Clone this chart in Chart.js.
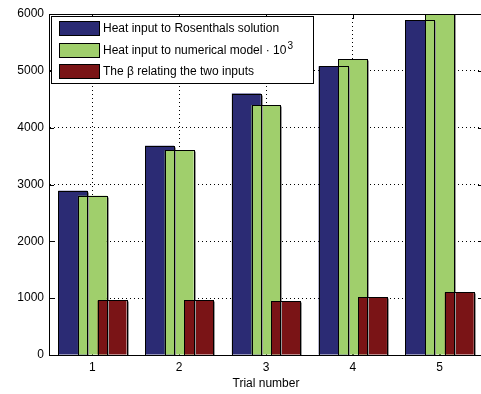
<!DOCTYPE html>
<html lang="en">
<head>
  <meta charset="UTF-8" />
  <title>Heat input per trial</title>
  <script src="https://cdn.jsdelivr.net/npm/chart.js"></script>
  <style>
    body {
      margin: 0;
      background: white;
      overflow: hidden;
    }
    #heatChart {
      display: block;
    }
  </style>
</head>
<body>
  <canvas id="heatChart" width="484" height="394"></canvas>

  <script>
    const trials = ['1', '2', '3', '4', '5'];
    const rosenthalHeat = [2890, 3680, 4600, 5080, 5890];
    const numericalHeat = [2800, 3600, 4400, 5200, 6100];
    const betaValues = [960, 960, 945, 1015, 1100];
    const yTicks = [0, 1000, 2000, 3000, 4000, 5000, 6000];

    const seriesNames = [
      'Heat input to Rosenthals solution',
      'Heat input to numerical model \u00b7 10',
      'The \u03b2 relating the two inputs'
    ];
    const colors = ['#2b2b74', '#a0cf6c', '#7a1416'];

    Chart.defaults.font.family = "'Liberation Sans', Arial, sans-serif";
    Chart.defaults.font.size = 12;
    Chart.defaults.color = '#000';

    // bars are filled in series order and outlined afterwards, so every outline stays visible
    const overlapBars = {
      id: 'overlapBars',
      beforeDatasetsDraw(chart) {
        const ctx = chart.ctx;
        const a = chart.chartArea;

        // short inward ticks on all four sides
        ctx.save();
        ctx.strokeStyle = '#000';
        ctx.lineWidth = 1;
        ctx.beginPath();
        const ys = chart.scales.y;
        yTicks.forEach(v => {
          const py = Math.round(ys.getPixelForValue(v)) + 0.5;
          ctx.moveTo(a.left, py); ctx.lineTo(a.left + 5, py);
          ctx.moveTo(a.right - 5, py); ctx.lineTo(a.right, py);
        });
        const xs = chart.scales.x;
        trials.forEach((t, i) => {
          const px = Math.round(xs.getPixelForValue(i)) + 0.5;
          ctx.moveTo(px, a.top); ctx.lineTo(px, a.top + 5);
          ctx.moveTo(px, a.bottom); ctx.lineTo(px, a.bottom - 5);
        });
        ctx.stroke();

        ctx.beginPath();
        ctx.rect(a.left, a.top, a.right - a.left, a.bottom - a.top);
        ctx.clip();

        const metas = chart.getSortedVisibleDatasetMetas();
        metas.forEach(meta => meta.data.forEach(el => el.draw(ctx)));

        metas.forEach(meta => {
          meta.data.forEach(el => {
            const { x, y, base, width } = el.getProps(['x', 'y', 'base', 'width'], true);
            const l = Math.round(x - width / 2) + 0.5;
            const r = Math.round(x + width / 2) + 0.5;
            const t = Math.round(Math.min(y, base)) + 0.5;
            const b = Math.round(base) + 0.5;
            ctx.strokeStyle = '#9a9a9a';
            ctx.beginPath();
            ctx.moveTo(r + 1, t + 1); ctx.lineTo(r + 1, b);
            ctx.stroke();
            ctx.strokeStyle = '#000';
            ctx.strokeRect(l, t, r - l, b - t);
          });
        });
        ctx.restore();
        return false;
      },
      afterDraw(chart) {
        const ctx = chart.ctx;
        const a = chart.chartArea;
        ctx.save();
        ctx.strokeStyle = '#000';
        ctx.lineWidth = 1;
        ctx.strokeRect(Math.round(a.left) + 0.5, Math.round(a.top) + 0.5,
          Math.round(a.right - a.left), Math.round(a.bottom - a.top));

        // legend box in the upper left corner of the axes
        const bx = a.left + 2, by = a.top + 2, bw = 262, bh = 67;
        ctx.fillStyle = '#fff';
        ctx.fillRect(bx, by, bw, bh);
        ctx.strokeRect(bx + 0.5, by + 0.5, bw, bh);

        ctx.font = "12px 'Liberation Sans', Arial, sans-serif";
        ctx.textBaseline = 'middle';
        seriesNames.forEach((name, i) => {
          const rowY = by + 5 + Math.round(i * 21.5);
          ctx.fillStyle = colors[i];
          ctx.fillRect(bx + 8, rowY, 40, 14);
          ctx.strokeStyle = '#000';
          ctx.strokeRect(bx + 8.5, rowY + 0.5, 40, 14);
          ctx.fillStyle = '#000';
          const ty = rowY + 8;
          ctx.fillText(name, bx + 52, ty);
          if (i === 1) {
            const w = ctx.measureText(name).width;
            ctx.font = "10px 'Liberation Sans', Arial, sans-serif";
            ctx.fillText('3', bx + 53 + w, ty - 5);
            ctx.font = "12px 'Liberation Sans', Arial, sans-serif";
          }
        });
        ctx.restore();
      }
    };

    new Chart(document.getElementById('heatChart'), {
      type: 'bar',
      data: {
        labels: trials,
        datasets: [
          { label: seriesNames[0], data: rosenthalHeat, backgroundColor: colors[0] },
          { label: seriesNames[1], data: numericalHeat, backgroundColor: colors[1] },
          { label: seriesNames[2], data: betaValues, backgroundColor: colors[2] }
        ]
      },
      options: {
        responsive: false,
        animation: false,
        layout: { padding: { top: 14, right: 1, left: 0, bottom: 0 } },
        datasets: {
          bar: {
            borderWidth: 0,
            categoryPercentage: 0.68,
            barPercentage: 1.47
          }
        },
        plugins: {
          legend: { display: false },
          tooltip: { enabled: false }
        },
        scales: {
          x: {
            afterFit(scale) { scale.height = 39; },
            grid: {
              offset: false,
              color: '#000',
              drawTicks: false
            },
            border: { display: true, color: '#000', dash: [1, 3] },
            ticks: { padding: 5, color: '#000' },
            title: {
              display: true,
              text: 'Trial number',
              color: '#000',
              padding: { top: 0, bottom: 3 }
            }
          },
          y: {
            min: 0,
            max: 6000,
            afterFit(scale) { scale.width = 49; },
            afterBuildTicks(scale) {
              scale.ticks = yTicks.map(v => ({ value: v }));
            },
            grid: {
              color: '#000',
              drawTicks: false
            },
            border: { display: true, color: '#000', dash: [1, 3] },
            ticks: {
              padding: 5,
              color: '#000',
              callback: value => String(value)
            }
          }
        }
      },
      plugins: [overlapBars]
    });
  </script>
</body>
</html>
